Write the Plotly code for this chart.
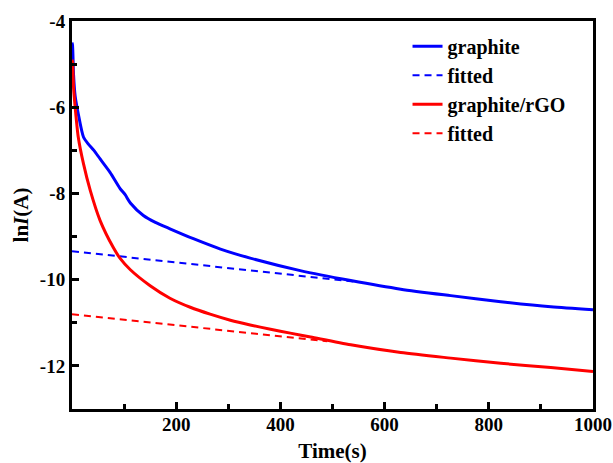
import plotly.graph_objects as go

# Chronoamperometry: ln(I) versus time for the two electrodes
t_graphite = [0, 1, 3, 6, 12, 22, 31, 42, 54, 73, 92, 102, 112, 137, 160, 188,
              233, 285, 342, 438, 535, 631, 727, 823, 919, 1000]
ln_i_graphite = [-4.50, -4.56, -5.25, -5.74, -6.15, -6.69, -6.85, -7.00, -7.20,
                 -7.51, -7.88, -8.03, -8.22, -8.51, -8.67, -8.82, -9.05, -9.29,
                 -9.50, -9.79, -10.02, -10.22, -10.37, -10.51, -10.63, -10.70]

t_rgo = [0, 1, 3, 6, 12, 22, 35, 54, 79, 92, 112, 150, 188, 227, 265, 304,
         342, 381, 419, 458, 535, 631, 727, 823, 919, 1000]
ln_i_rgo = [-4.90, -4.95, -5.55, -5.99, -6.69, -7.31, -7.93, -8.63, -9.25,
            -9.50, -9.77, -10.14, -10.43, -10.64, -10.80, -10.94, -11.05,
            -11.15, -11.24, -11.33, -11.51, -11.69, -11.82, -11.94, -12.04,
            -12.13]

# Linear fits of the long-time region (end points)
t_fit_graphite = [0, 545]
ln_i_fit_graphite = [-9.34, -10.05]
t_fit_rgo = [0, 490]
ln_i_fit_rgo = [-10.80, -11.43]

series_names = ["graphite", "fitted", "graphite/rGO", "fitted"]

x_tick_vals = [200, 400, 600, 800, 1000]
x_tick_text = ["200", "400", "600", "800", "1000"]
y_tick_vals = [-12, -10, -8, -6, -4]
y_tick_text = ["-12", "-10", "-8", "-6", "-4"]

FONT = "Liberation Serif"
BLUE = "#0000ff"
RED = "#ff0000"

fig = go.Figure()
fig.add_trace(go.Scatter(x=t_graphite, y=ln_i_graphite, mode="lines",
                         name=series_names[0],
                         line=dict(color=BLUE, width=3, shape="spline", smoothing=0.7)))
fig.add_trace(go.Scatter(x=t_fit_graphite, y=ln_i_fit_graphite, mode="lines",
                         name=series_names[1],
                         line=dict(color=BLUE, width=2, dash="7px,5px")))
fig.add_trace(go.Scatter(x=t_rgo, y=ln_i_rgo, mode="lines",
                         name=series_names[2],
                         line=dict(color=RED, width=3, shape="spline", smoothing=0.7)))
fig.add_trace(go.Scatter(x=t_fit_rgo, y=ln_i_fit_rgo, mode="lines",
                         name=series_names[3],
                         line=dict(color=RED, width=2, dash="7px,5px")))

axis_common = dict(
    showline=True, linecolor="black", linewidth=3, mirror=True,
    ticks="inside", ticklen=7, tickwidth=3, tickcolor="black",
    showgrid=False, zeroline=False, automargin=False,
    tickfont=dict(family=FONT, size=19, color="black", weight="bold"),
)

fig.update_xaxes(
    **axis_common,
    range=[0, 1000],
    tickmode="array", tickvals=x_tick_vals, ticktext=x_tick_text,
    ticklabelstandoff=-4,
    minor=dict(tickmode="linear", tick0=0, dtick=100, ticks="inside",
               ticklen=5, tickwidth=3, tickcolor="black"),
    title=dict(text="Time(s)", standoff=18,
               font=dict(family=FONT, size=21, color="black", weight="bold")),
)
fig.update_yaxes(
    **axis_common,
    range=[-13, -4],
    tickmode="array", tickvals=y_tick_vals, ticktext=y_tick_text,
    minor=dict(tickmode="linear", tick0=-13, dtick=1, ticks="inside",
               ticklen=5, tickwidth=3, tickcolor="black"),
    title=dict(text="ln<i>I</i>(A)", standoff=6,
               font=dict(family=FONT, size=21, color="black", weight="bold")),
)

fig.update_layout(
    width=613, height=463,
    margin=dict(l=72, r=20, t=21, b=54, pad=0),
    paper_bgcolor="white", plot_bgcolor="white",
    showlegend=True,
    legend=dict(
        x=0.644, y=0.985, xanchor="left", yanchor="top",
        bgcolor="rgba(0,0,0,0)", borderwidth=0,
        font=dict(family=FONT, size=20, color="black", weight="bold"),
        tracegroupgap=0, itemwidth=30,
    ),
)

fig.write_html("out.html")
